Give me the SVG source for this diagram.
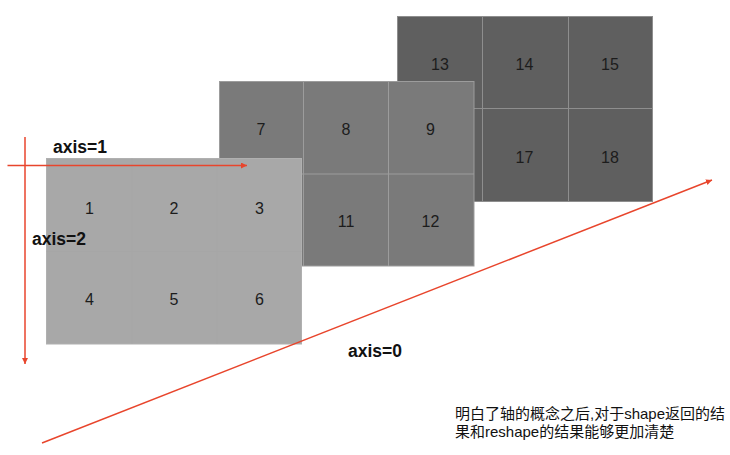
<svg xmlns="http://www.w3.org/2000/svg" width="730" height="455" viewBox="0 0 730 455">
<style>
.num{font-family:"Liberation Sans",Arial,sans-serif;font-size:16px;fill:#1c1c1c;text-anchor:middle}
.ax{font-family:"Liberation Sans",Arial,sans-serif;font-size:17.5px;font-weight:bold;fill:#111}
.cn{font-family:"Liberation Sans","Noto Sans CJK SC",sans-serif;font-size:15px;fill:#111}
.red{stroke:#e8452c;stroke-width:1.5;fill:none}
.gb{stroke:#8e8e8e;stroke-width:1}
.gm{stroke:#9c9c9c;stroke-width:1}
.gf{stroke:#a4a4a4;stroke-width:0.5}
</style>
<defs>
<marker id="ah" viewBox="0 0 10 10" refX="10" refY="5" markerWidth="6" markerHeight="6" orient="auto" markerUnits="userSpaceOnUse">
<path d="M0,0 L10,5 L0,10 z" fill="#e8452c"/>
</marker>
</defs>
<rect width="730" height="455" fill="#ffffff"/>
<g id="plane-back">
<rect x="397.5" y="16.5" width="255" height="185" fill="#5f5f5f" stroke="#8e8e8e"/>
<line class="gb" x1="482.5" y1="16.5" x2="482.5" y2="201.5"/>
<line class="gb" x1="568.5" y1="16.5" x2="568.5" y2="201.5"/>
<line class="gb" x1="397.5" y1="108.5" x2="652.5" y2="108.5"/>
<text class="num" x="440" y="70">13</text>
<text class="num" x="524.5" y="70">14</text>
<text class="num" x="610" y="70">15</text>
<text class="num" x="524.5" y="162.5">17</text>
<text class="num" x="610" y="162.5">18</text>
</g>
<g id="plane-middle">
<rect x="219.5" y="81.5" width="254.5" height="184.5" fill="#7a7a7a" stroke="#9c9c9c"/>
<line class="gm" x1="303.5" y1="81.5" x2="303.5" y2="266"/>
<line class="gm" x1="388.5" y1="81.5" x2="388.5" y2="266"/>
<line class="gm" x1="219.5" y1="174" x2="474" y2="174"/>
<text class="num" x="261" y="134.5">7</text>
<text class="num" x="346" y="134.5">8</text>
<text class="num" x="430.5" y="134.5">9</text>
<text class="num" x="346" y="226.5">11</text>
<text class="num" x="430.5" y="226.5">12</text>
</g>
<g id="plane-front">
<rect x="46.5" y="158.5" width="255" height="185.5" fill="#a8a8a8" stroke="#b0b0b0"/>
<line class="gf" x1="132" y1="158.5" x2="132" y2="344"/>
<line class="gf" x1="217" y1="158.5" x2="217" y2="344"/>
<line class="gf" x1="46.5" y1="251.5" x2="301.5" y2="251.5"/>
<text class="num" x="89.5" y="213.5">1</text>
<text class="num" x="174" y="213.5">2</text>
<text class="num" x="259.5" y="213.5">3</text>
<text class="num" x="89.5" y="305">4</text>
<text class="num" x="174" y="305">5</text>
<text class="num" x="259.5" y="305">6</text>
</g>
<g id="connectors">
<line class="red" x1="7.5" y1="165.5" x2="247" y2="165.5" marker-end="url(#ah)"/>
<line class="red" x1="25" y1="137" x2="25" y2="364" marker-end="url(#ah)"/>
<line class="red" x1="42" y1="443" x2="712" y2="180" marker-end="url(#ah)"/>
</g>
<g id="labels">
<text class="ax" x="53" y="153.3">axis=1</text>
<text class="ax" x="32" y="245">axis=2</text>
<text class="ax" x="348" y="357">axis=0</text>
<text class="cn" x="455" y="418.5">明白了轴的概念之后,对于shape返回的结</text>
<text class="cn" x="455" y="436.5">果和reshape的结果能够更加清楚</text>
</g>
</svg>
